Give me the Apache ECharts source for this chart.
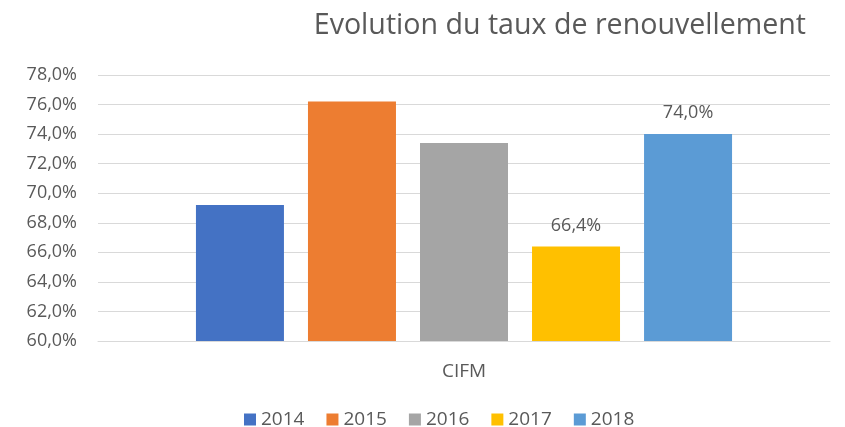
<!DOCTYPE html>
<html><head><meta charset="utf-8">
<script src="https://cdn.jsdelivr.net/npm/echarts@6/dist/echarts.min.js"></script>
<style>html,body{margin:0;padding:0;background:#fff}#c{width:845px;height:427px}</style>
</head><body><div id="c"></div>
<script>
const categories = ['CIFM'];
const years = ['2014','2015','2016','2017','2018'];
const values = [69.2, 76.2, 73.4, 66.4, 74.0];
const colors = ['#4472C4','#ED7D31','#A5A5A5','#FFC000','#5B9BD5'];
const showLabel = [false,false,false,true,true];
const yTicks = {min:60, max:78, interval:2};

const fmt = v => v.toFixed(1).replace('.', ',') + '%';
const chart = echarts.init(document.getElementById('c'));
const font = '"Open Sans", sans-serif';
chart.setOption({
  animation:false,
  title:{text:'Evolution du taux de renouvellement', right:34, top:6,
    textStyle:{fontFamily:font, fontSize:28.6, fontWeight:'normal', color:'#595959'}},
  grid:{left:98, right:15, top:75, bottom:86},
  legend:{top:405, left:239, itemWidth:12, itemHeight:12, itemGap:22, icon:'rect',
    textStyle:{fontFamily:font, fontSize:19, color:'#595959'}, data:years},
  xAxis:{type:'category', data:categories,
    axisLine:{lineStyle:{color:'#D9D9D9', width:1}}, axisTick:{show:false},
    axisLabel:{fontFamily:font, fontSize:19, color:'#595959', margin:21}},
  yAxis:{type:'value', min:yTicks.min, max:yTicks.max, interval:yTicks.interval,
    axisLine:{show:false}, axisTick:{show:false},
    splitLine:{lineStyle:{color:'#D9D9D9', width:1}},
    axisLabel:{fontFamily:font, fontSize:18, color:'#595959', margin:21, formatter:fmt}},
  series: years.map((y,i)=>({
    name:y, type:'bar', barWidth:88, barGap:'27.3%',
    itemStyle:{color:colors[i]},
    data:[values[i]],
    label:{show:showLabel[i], position:'top', distance:12, fontFamily:font, fontSize:18, color:'#595959', formatter:p=>fmt(p.value)}
  }))
});
</script></body></html>
